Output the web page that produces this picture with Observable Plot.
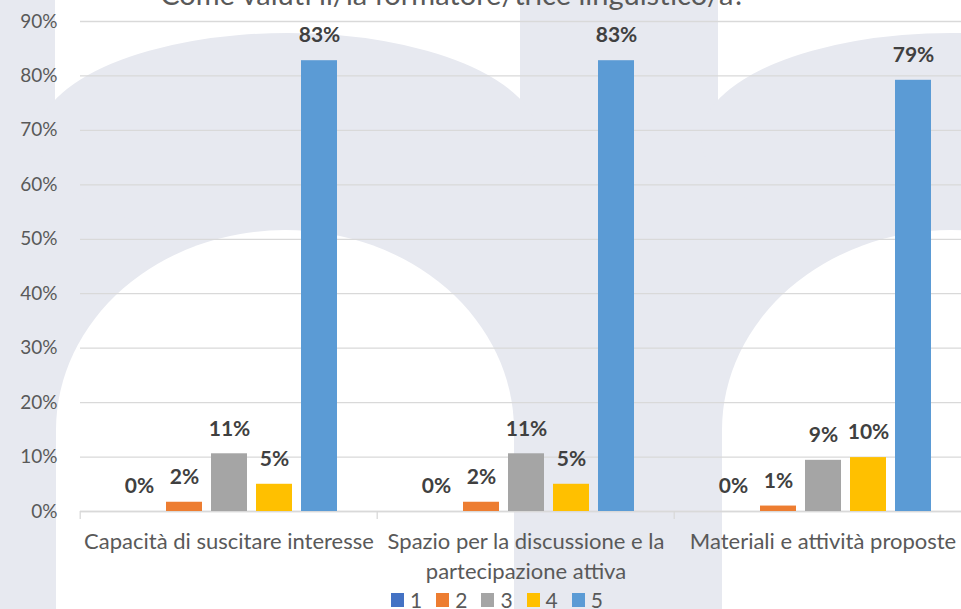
<!DOCTYPE html>
<html><head><meta charset="utf-8">
<script src="https://cdn.jsdelivr.net/npm/d3@7"></script>
<script src="https://cdn.jsdelivr.net/npm/@observablehq/plot@0.6"></script>
<style>
html,body{margin:0;padding:0;background:#fff;overflow:hidden;}
#wrap{position:relative;width:961px;height:609px;overflow:hidden;font-family:Lato, "Open Sans", sans-serif;}
#bg,#chart,#title{position:absolute;left:0;top:0;}
#chart svg{max-width:none !important;}
#legend{position:absolute;left:391px;top:587px;display:flex;justify-content:flex-start;}
.lg-swatches{margin:0 !important;min-height:0 !important;}
.lg-swatch{margin-right:14px !important;}
.lg-swatch > svg{margin-right:6px !important;}
</style></head>
<body><div id="wrap">
<svg id="bg" width="961" height="609">
  <rect width="961" height="609" fill="#e7e9f0"/>
  <rect x="55" y="0" width="465" height="140" fill="#fff"/>
  <ellipse cx="288" cy="138" rx="250" ry="105" fill="#e7e9f0"/>
  <rect x="718" y="0" width="243" height="140" fill="#fff"/>
  <ellipse cx="951" cy="138" rx="250" ry="105" fill="#e7e9f0"/>
  <path d="M56,609 L56,430 A229,200 0 0 1 514,430 L514,609 Z" fill="#fff"/>
  <path d="M722,609 L722,430 A229,200 0 0 1 1180,430 L1180,609 Z" fill="#fff"/>
</svg>
<div id="chart"></div>
<svg id="title" width="961" height="20"><text x="453" y="5" text-anchor="middle" font-size="29" fill="#595959" font-family="Lato, sans-serif">Come valuti il/la formatore/trice linguistico/a?</text></svg>
<div id="legend"></div>
</div>
<script>
const categories = ["Capacità di suscitare interesse", "Spazio per la discussione e la partecipazione attiva", "Materiali e attività proposte"];
const categoryLabels = ["Capacità di suscitare interesse", "Spazio per la discussione e la\npartecipazione attiva", "Materiali e attività proposte"];
const series = ["1", "2", "3", "4", "5"];
const colors = ["#4472C4", "#ED7D31", "#A5A5A5", "#FFC000", "#5B9BD5"];
const valuesCapacita = [0, 0.017, 0.106, 0.050, 0.828];
const valuesSpazio = [0, 0.017, 0.106, 0.050, 0.828];
const valuesMateriali = [0, 0.010, 0.094, 0.099, 0.792];
const yTicks = [0, 0.1, 0.2, 0.3, 0.4, 0.5, 0.6, 0.7, 0.8, 0.9];

const allValues = [valuesCapacita, valuesSpazio, valuesMateriali];
const data = [];
categories.forEach((c, i) => series.forEach((s, j) => data.push({category: c, series: s, value: allValues[i][j]})));
const labelOf = new Map(categories.map((c, i) => [c, categoryLabels[i]]));
const pct = d3.format(".0%");
const font = "Lato, 'Open Sans', sans-serif";

const chart = Plot.plot({
  width: 972, height: 590,
  marginLeft: 79, marginRight: 0, marginTop: 21, marginBottom: 79,
  style: {background: "transparent", fontFamily: font, fontSize: "19px", color: "#595959", overflow: "visible", maxWidth: "none"},
  fx: {domain: categories, padding: 0, label: null},
  x: {domain: series, paddingInner: 0.21, paddingOuter: 0.86, axis: null},
  y: {domain: [0, 0.9], label: null},
  color: {domain: series, range: colors},
  marks: [
    Plot.gridY(yTicks, {stroke: "#d9d9d9", strokeOpacity: 1, strokeWidth: 1.3}),
    Plot.ruleY([0], {stroke: "#d9d9d9", strokeWidth: 1.5}),
    Plot.axisY(yTicks, {tickSize: 0, tickPadding: 23, tickFormat: pct, fill: "#595959", fontSize: 19, label: null}),
    Plot.axisFx({anchor: "bottom", tickSize: 8, dx: -148.8, fill: "none", stroke: "#d9d9d9", strokeWidth: 1.3, label: null}),
    Plot.axisFx({anchor: "bottom", tickSize: 0, tickPadding: 17, tickFormat: d => labelOf.get(d), lineHeight: 1.33, fill: "#595959", fontSize: 22, label: null}),
    Plot.barY(data, {fx: "category", x: "series", y: "value", fill: "series"}),
    Plot.text(data, {fx: "category", x: "series", y: "value", text: d => pct(d.value), dy: -25, fontWeight: "bold", fill: "#404040", fontSize: 21})
  ]
});
document.getElementById("chart").appendChild(chart);

const legend = Plot.legend({
  color: {domain: series, range: colors},
  legend: "swatches", swatchWidth: 13, swatchHeight: 14, className: "lg",
  style: {fontFamily: font, fontSize: "21px", color: "#595959", background: "transparent"}
});
document.getElementById("legend").appendChild(legend);
</script>
</body></html>
